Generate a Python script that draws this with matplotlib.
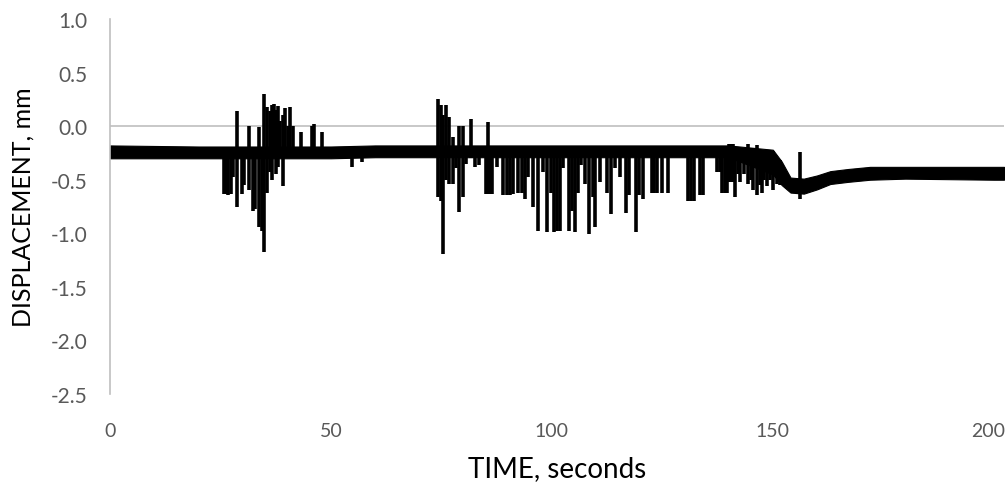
import numpy as np
import matplotlib.pyplot as plt
from matplotlib.transforms import ScaledTranslation

# ============================================
# Data
# ============================================

# Noisy baseline band (time, upper edge, lower edge) in mm
band_t = [0, 20, 50, 60, 100, 140, 150, 152, 154, 157, 160, 163, 167, 172, 180, 200, 202.3]
band_hi = [-0.18, -0.19, -0.19, -0.18, -0.18, -0.18, -0.22, -0.33, -0.48, -0.49, -0.46, -0.42, -0.40, -0.38, -0.38, -0.38, -0.38]
band_lo = [-0.30, -0.30, -0.30, -0.29, -0.29, -0.29, -0.45, -0.55, -0.62, -0.63, -0.59, -0.54, -0.52, -0.50, -0.49, -0.50, -0.50]

# Spikes: time, top value, bottom value
spike_t = [25.8, 26.3, 26.8, 27.3, 27.8, 28.7, 29.9, 30.4, 31.4, 32.3, 32.8, 33.8, 34.4, 34.9,
           35.5, 36.2, 36.7, 37.1, 37.6, 38.0, 38.5, 39.1, 39.6, 40.2, 40.7, 41.4, 43.2, 45.7,
           46.2, 48.0, 54.7, 57.0,
           74.3, 74.9, 75.4, 76.0, 76.7, 77.6, 78.3, 79.0, 79.9, 80.5, 81.7, 82.6, 83.4, 85.0,
           85.5, 86.0, 86.4, 87.6, 89.0, 89.8, 90.6, 91.3, 92.4, 93.2, 93.9, 94.6, 95.7, 96.8,
           98.0, 98.9, 99.8, 100.5, 101.1, 101.8, 102.5, 103.8, 104.5, 105.2, 105.9, 106.7,
           107.5, 108.4, 109.3, 109.7, 110.9, 112.4, 113.3, 114.3, 115.4, 116.7, 117.4, 119.0,
           119.7, 120.6, 122.6, 123.2, 123.8, 124.9, 126.2, 130.8, 131.5, 132.2, 133.5, 134.2,
           137.3, 138.0, 138.5, 139.1, 139.6,
           140.0, 140.5, 141.0, 141.4, 142.0, 142.5, 143.4, 144.3, 145.0, 145.5, 146.4, 147.0,
           147.5, 148.0, 148.6, 149.3, 150.0, 150.9, 151.6, 156.1]
spike_hi = [-0.20, -0.20, -0.20, -0.20, -0.20, 0.14, -0.20, -0.20, 0.00, -0.20, -0.20, -0.01, -0.20, 0.30,
            0.18, 0.14, 0.20, 0.21, 0.15, 0.19, 0.05, 0.10, 0.17, 0.00, 0.18, 0.00, -0.05, 0.00,
            0.02, -0.05, -0.20, -0.20,
            0.25, 0.20, 0.10, 0.20, 0.09, -0.10, -0.20, 0.00, 0.00, -0.20, 0.07, -0.20, -0.20, -0.20,
            0.04, -0.20, -0.20, -0.20, -0.20, -0.20, -0.20, -0.20, -0.20, -0.20, -0.20, -0.20, -0.20, -0.20,
            -0.20, -0.20, -0.20, -0.20, -0.20, -0.20, -0.20, -0.20, -0.20, -0.20, -0.20, -0.20,
            -0.20, -0.20, -0.20, -0.20, -0.20, -0.20, -0.20, -0.20, -0.20, -0.20, -0.20, -0.20,
            -0.20, -0.20, -0.20, -0.20, -0.20, -0.20, -0.20, -0.20, -0.20, -0.20, -0.20, -0.20,
            -0.20, -0.20, -0.20, -0.20, -0.20,
            -0.17, -0.17, -0.17, -0.20, -0.20, -0.20, -0.20, -0.17, -0.25, -0.20, -0.18, -0.30,
            -0.30, -0.30, -0.30, -0.35, -0.23, -0.30, -0.32, -0.24]
spike_lo = [-0.63, -0.63, -0.64, -0.63, -0.47, -0.75, -0.63, -0.55, -0.60, -0.79, -0.77, -0.94, -0.98, -1.17,
            -0.62, -0.43, -0.50, -0.30, -0.45, -0.38, -0.30, -0.56, -0.30, -0.30, -0.30, -0.30, -0.30, -0.30,
            -0.30, -0.30, -0.38, -0.33,
            -0.66, -0.70, -1.19, -0.50, -0.54, -0.54, -0.39, -0.80, -0.66, -0.35, -0.30, -0.38, -0.36, -0.63,
            -0.63, -0.63, -0.63, -0.38, -0.64, -0.64, -0.64, -0.63, -0.62, -0.62, -0.68, -0.47, -0.75, -0.98,
            -0.43, -0.99, -0.62, -0.99, -0.98, -0.98, -0.39, -0.98, -0.79, -0.99, -0.62, -0.36,
            -0.54, -1.01, -0.66, -0.94, -0.52, -0.62, -0.82, -0.39, -0.47, -0.81, -0.64, -0.99,
            -0.64, -0.68, -0.62, -0.62, -0.62, -0.62, -0.62, -0.70, -0.70, -0.70, -0.64, -0.64,
            -0.43, -0.43, -0.62, -0.62, -0.62,
            -0.52, -0.52, -0.52, -0.66, -0.45, -0.52, -0.45, -0.54, -0.50, -0.60, -0.64, -0.55,
            -0.62, -0.50, -0.56, -0.50, -0.60, -0.54, -0.55, -0.68]

x_ticks = [0, 50, 100, 150, 200]
y_ticks = [1.0, 0.5, 0.0, -0.5, -1.0, -1.5, -2.0, -2.5]

# ============================================
# Plot
# ============================================

plt.rcParams['font.family'] = ['Lato', 'DejaVu Sans']

fig = plt.figure(figsize=(10.06, 4.89), dpi=100)
ax = fig.add_axes([0.1093, 0.1922, 0.8887, 0.7669])

# zero line (the category axis in the original)
ax.axhline(0, color='#bfbfbf', lw=1.2, zorder=1)

ax.fill_between(band_t, band_hi, band_lo, color='black', lw=0.8, edgecolor='black', zorder=2)
ax.vlines(spike_t, spike_lo, spike_hi, color='black', lw=2.6, zorder=3)

ax.set_xlim(0, 202.3)
ax.set_ylim(-2.5, 1.0)
ax.set_xticks(x_ticks)
ax.set_yticks(y_ticks)
ax.set_yticklabels([f"{v:.1f}" for v in y_ticks])
ax.tick_params(length=0, labelsize=15, labelcolor='#595959')
ax.tick_params(axis='x', labelsize=14, pad=20)
ax.tick_params(axis='y', pad=16)

# last x label sits at the right edge of the picture, nudge it in
last = ax.xaxis.get_major_ticks()[-1].label1
last.set_transform(last.get_transform() + ScaledTranslation(-6 / 100, 0, fig.dpi_scale_trans))

for side in ['top', 'right', 'bottom']:
    ax.spines[side].set_visible(False)
ax.spines['left'].set_color('#bfbfbf')
ax.spines['left'].set_linewidth(1.2)

ax.set_xlabel('TIME, seconds', fontsize=20, labelpad=12)
ax.set_ylabel('DISPLACEMENT, mm', fontsize=18, labelpad=12)

fig.savefig('out.png', dpi=100)
